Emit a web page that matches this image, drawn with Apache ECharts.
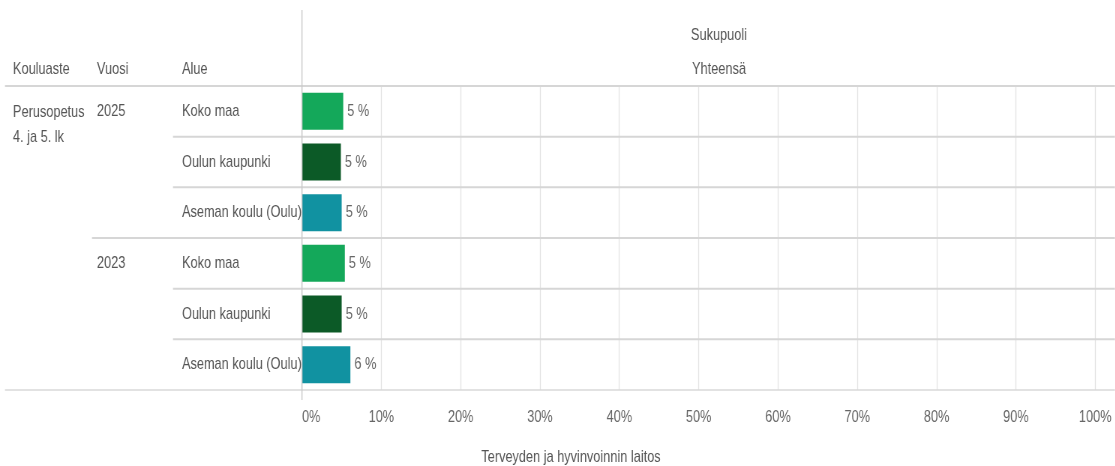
<!DOCTYPE html>
<html>
<head>
<meta charset="utf-8">
<script src="https://cdn.jsdelivr.net/npm/echarts@6/dist/echarts.min.js"></script>
<style>
html,body{margin:0;padding:0;background:#fff;overflow:hidden;width:1115px;height:466px;}
#chart{width:1487px;height:466px;transform:scaleX(0.75);transform-origin:0 0;}
</style>
</head>
<body>
<div id="chart"></div>
<script>
// ---- data ----
const kouluaste = 'Perusopetus\n4. ja 5. lk';
const years = ['2025', '2023'];
const areas = ['Koko maa', 'Oulun kaupunki', 'Aseman koulu (Oulu)'];
const values2025 = [5.2, 4.9, 5.0];
const values2023 = [5.4, 5.0, 6.1];
const headers = ['Kouluaste', 'Vuosi', 'Alue'];
const groupTitle = 'Sukupuoli';
const seriesTitle = 'Yhteensä';
const source = 'Terveyden ja hyvinvoinnin laitos';

// ---- styles / layout ----
// The chart is drawn 1/0.75 wider and squeezed horizontally by CSS,
// which gives the narrow (Arial Narrow-like) lettering of the reference.
const S = 0.75;
const px = x => x / S;               // page x -> chart x
const areaColors = ['#14a85a', '#0c5a27', '#1192a1'];
const FONT = "'Liberation Sans', Arial, sans-serif";
const FS = 17;
const TXT = '#555555';
const W = px(1115), H = 466;
const G = { left: px(302), right: px(20), top: 86, bottom: 76 };

const valuesByYear = [values2025, values2023];
const rows = [];
const barData = [];
years.forEach((y, yi) => {
  areas.forEach((a, ai) => {
    rows.push(y + '|' + a);
    barData.push({ value: valuesByYear[yi][ai], itemStyle: { color: areaColors[ai] } });
  });
});

const chart = echarts.init(document.getElementById('chart'), null, { renderer: 'canvas' });

const baseY = {
  type: 'category', data: rows, inverse: true, position: 'left',
  axisLine: { show: false }, axisTick: { show: false }, splitLine: { show: false }
};

chart.setOption({
  animation: false,
  backgroundColor: '#fff',
  textStyle: { fontFamily: FONT },
  grid: { left: G.left, right: G.right, top: G.top, bottom: G.bottom, containLabel: false },
  xAxis: {
    type: 'value', min: 0, max: 100, interval: 10,
    axisLine: { show: false }, axisTick: { show: false },
    splitLine: { show: true, lineStyle: { color: '#e4e4e4', width: 1 / S } },
    axisLabel: {
      formatter: '{value}%', color: '#666666', fontSize: FS, fontFamily: FONT, margin: 19,
      alignMinLabel: 'left'
    }
  },
  yAxis: [
    Object.assign({}, baseY, {
      axisLabel: {
        align: 'left', margin: G.left - px(182), color: TXT, fontSize: FS, fontFamily: FONT,
        formatter: v => v.split('|')[1]
      }
    }),
    Object.assign({}, baseY, {
      axisLabel: {
        align: 'left', margin: G.left - px(97), color: TXT, fontSize: FS, fontFamily: FONT,
        formatter: (v, i) => (i % areas.length === 0 ? v.split('|')[0] : '')
      }
    })
  ],
  series: [{
    type: 'bar', data: barData, barWidth: 37, yAxisIndex: 0,
    label: {
      show: true, position: 'right', distance: px(4), color: '#666666', fontSize: FS, fontFamily: FONT,
      formatter: p => Math.round(p.value) + ' %'
    }
  }]
});

// table rules & header texts
const rowH = (H - G.top - G.bottom) / rows.length;
const gfx = [];
const hline = (x1, y, w, c) => gfx.push({ type: 'line', silent: true, z: 10,
  shape: { x1: x1, y1: y, x2: W, y2: y }, style: { stroke: c || '#d6d6d6', lineWidth: w || 2 } });
hline(px(5), G.top);
for (let i = 1; i < rows.length; i++) {
  hline(i % areas.length === 0 ? px(92) : px(173), G.top + i * rowH);
}
hline(px(5), H - G.bottom, 1.5, '#d9d9d9');
gfx.push({ type: 'line', silent: true, z: 11,
  shape: { x1: G.left, y1: 10, x2: G.left, y2: 400 }, style: { stroke: '#c8c8c8', lineWidth: 1 / S } });
const txt = (x, y, s, align) => gfx.push({ type: 'text', silent: true, z: 12, x: x, y: y,
  style: { text: s, fill: TXT, font: FS + 'px ' + FONT, textAlign: align || 'left', textVerticalAlign: 'middle' } });
txt(px(13), 69, headers[0]);
txt(px(97), 69, headers[1]);
txt(px(182), 69, headers[2]);
txt(px(719), 35, groupTitle, 'center');
txt(px(719), 69, seriesTitle, 'center');
const firstRowY = chart.convertToPixel({ yAxisIndex: 0 }, rows[0]);
gfx.push({ type: 'text', silent: true, z: 12, x: px(13), y: firstRowY - 12,
  style: { text: kouluaste, fill: TXT, font: FS + 'px ' + FONT, lineHeight: 25, textAlign: 'left', textVerticalAlign: 'top' } });
txt(px(571), 457, source, 'center');
chart.setOption({ graphic: gfx });
</script>
</body>
</html>
